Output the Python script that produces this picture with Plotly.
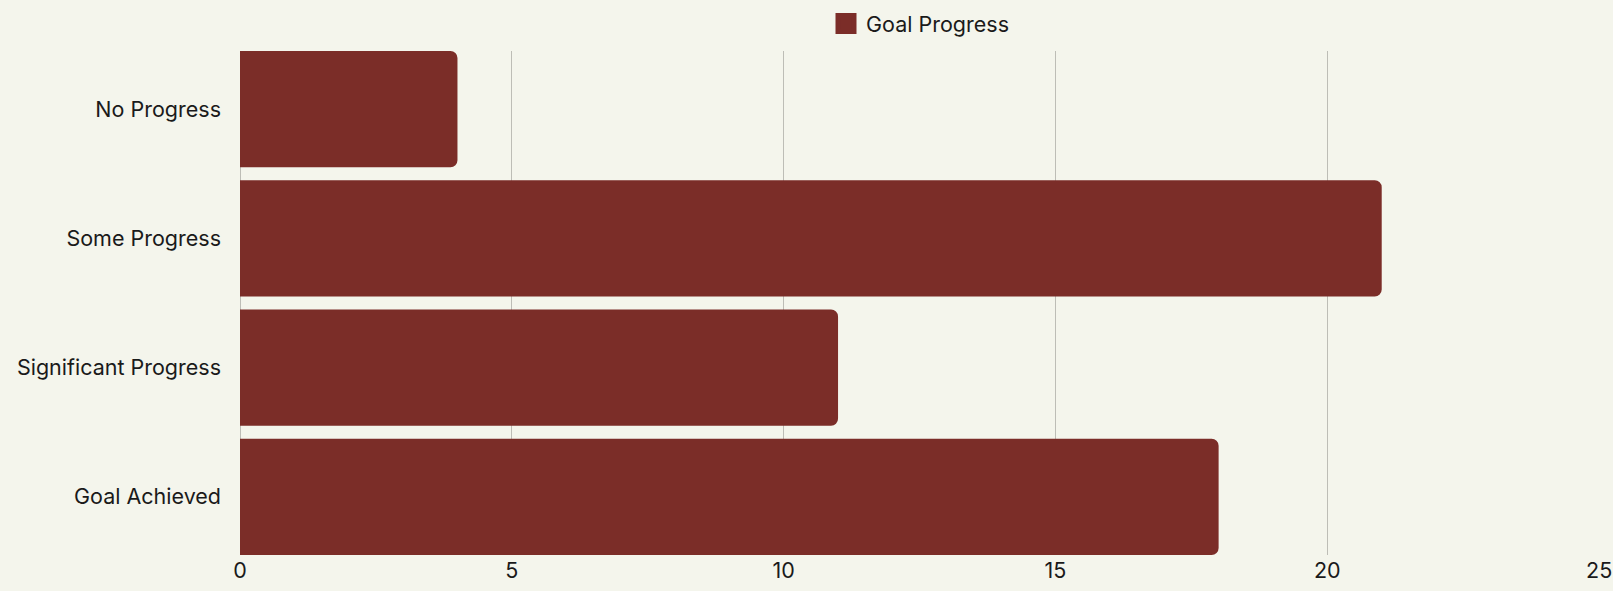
import plotly.graph_objects as go

categories = ["No Progress", "Some Progress", "Significant Progress", "Goal Achieved"]
values = [4, 21, 11, 18]
series_name = "Goal Progress"
x_ticks = [0, 5, 10, 15, 20, 25]

bar_color = "#7B2D28"
bg = "#F4F5EC"
grid_color = "#bdbdb6"
font_family = "Inter, 'DejaVu Sans', sans-serif"
bar_gap = 0.1

fig = go.Figure()
fig.add_trace(go.Bar(
    x=values, y=categories, orientation="h",
    marker=dict(color=bar_color, line=dict(width=0)),
    name=series_name, showlegend=False,
))
# legend proxy with a larger square swatch
fig.add_trace(go.Scatter(
    x=[None], y=[None], mode="markers", name=series_name,
    marker=dict(symbol="square", size=16, color=bar_color,
                line=dict(color=bar_color, width=5)),
    showlegend=True,
))

n = len(categories)
fig.update_layout(
    width=1613, height=591,
    paper_bgcolor=bg, plot_bgcolor=bg,
    margin=dict(l=240, r=13, t=51, b=36, autoexpand=False),
    font=dict(family=font_family, size=21.5, color="#1a1a1a"),
    bargap=bar_gap,
    barcornerradius=7,
    showlegend=True,
    legend=dict(orientation="h", x=0.5, xanchor="center",
                yref="container", y=0.96, yanchor="middle",
                font=dict(size=21.5), bgcolor="rgba(0,0,0,0)", itemwidth=30),
    xaxis=dict(range=[0, 25.015], tickvals=x_ticks, showgrid=True, gridcolor=grid_color,
               gridwidth=1, zeroline=True, zerolinecolor=grid_color, zerolinewidth=1,
               showline=False, ticks="", ticklabeloverflow="allow", automargin=False,
               tickfont=dict(size=21.5)),
    yaxis=dict(range=[n - 0.5 - bar_gap / 2, -0.5 + bar_gap / 2],
               showgrid=False, zeroline=False, showline=False,
               ticks="", ticklabelstandoff=18, automargin=False,
               tickfont=dict(size=21.5)),
)

fig.write_html("out.html", config={"displayModeBar": False},
               post_script="document.body.style.margin='0';document.documentElement.style.overflow='hidden';")
